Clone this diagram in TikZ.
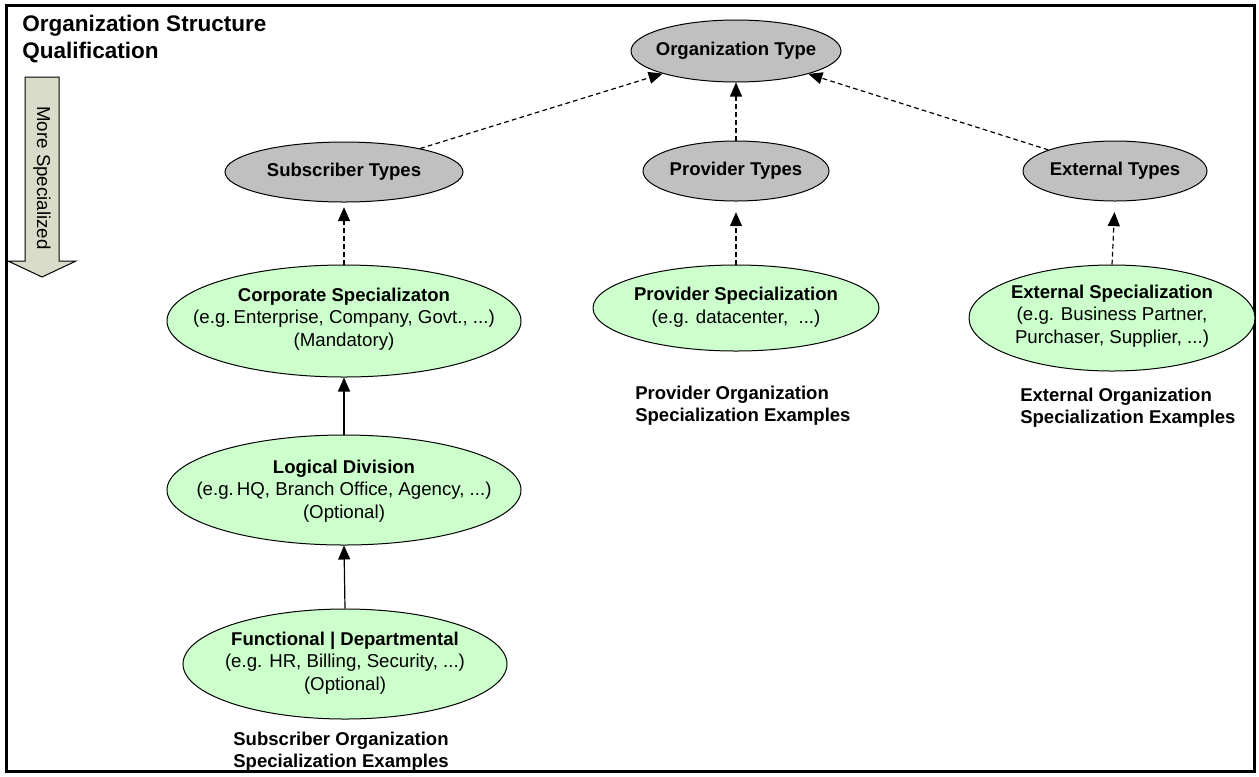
\documentclass[tikz,border=0pt]{standalone}
\usepackage{fontspec}
\setmainfont{Liberation Sans}
\usetikzlibrary{shapes.geometric,arrows.meta}
\definecolor{typegray}{RGB}{192,192,192}
\definecolor{specgreen}{RGB}{204,255,204}
\definecolor{arrowfill}{RGB}{216,220,200}
\newcommand\hdfont{\fontsize{13.9pt}{17pt}\selectfont\bfseries}
\newcommand\bdfont{\fontsize{14pt}{17pt}\selectfont}
\newcommand\capfont{\fontsize{13.9pt}{16.5pt}\selectfont\bfseries}
\newcommand\ttlfont{\fontsize{16.9pt}{20pt}\selectfont\bfseries}
\begin{document}
\begin{tikzpicture}[x=0.75pt,y=-0.75pt,
  ell/.style 2 args={ellipse, draw, line width=0.75pt, minimum width=#1*1.5pt, minimum height=#2*1.5pt, inner sep=0pt},
  typeell/.style 2 args={ell={#1}{#2}, fill=typegray},
  specell/.style 2 args={ell={#1}{#2}, fill=specgreen},
  txt/.style={align=center, inner sep=0pt, font=\bdfont},
  captxt/.style={align=left, inner sep=0pt, anchor=north west, font=\capfont},
  conn/.style={-{Triangle[length=10.5pt,width=9pt]}, line width=0.9pt},
  dashconn/.style={conn, dash pattern=on 3.5pt off 2.5pt}]
\useasboundingbox (0,0) rectangle (1259,776);
% frame
\draw[line width=2.25pt] (6.5,5.5) rectangle (1254.5,771);
% title
\node[anchor=base west, inner sep=0pt, font=\ttlfont] (title1) at (22,31) {Organization Structure};
\node[anchor=base west, inner sep=0pt, font=\ttlfont] (title2) at (22,58) {Qualification};
% more specialized arrow
\draw[fill=arrowfill, line width=0.75pt] (25,77) -- (59,77) -- (59,261) -- (76,261) -- (42,277) -- (8,261) -- (25,261) -- cycle;
\node[rotate=-90, inner sep=0pt, font=\bdfont] (more) at (42,178) {More Specialized};
% type ellipses
\node[typeell={105}{31}] (ot) at (736,51) {};
\node[txt, font=\hdfont] at (ot) {Organization Type};
\node[typeell={119}{30}] (st) at (344,172) {};
\node[txt, font=\hdfont] at (st) {Subscriber Types};
\node[typeell={93}{30}] (pt) at (736,171) {};
\node[txt, font=\hdfont] at (pt) {Provider Types};
\node[typeell={92}{30}] (et) at (1115,171) {};
\node[txt, font=\hdfont] at (et) {External Types};
% specialization ellipses
\node[specell={177}{56}] (cs) at (344,321) {};
\node[txt] at (344,319) {{\hdfont Corporate Specializaton}\\ (e.g.\,Enterprise, Company, Govt., ...)\\ (Mandatory)};
\node[specell={143}{43}] (ps) at (736,308) {};
\node[txt] at (736,307) {{\hdfont Provider Specialization}\\ (e.g. datacenter, \ ...)};
\node[specell={143}{53}] (es) at (1112,318) {};
\node[txt] at (1112,316) {{\hdfont External Specialization}\\ (e.g. Business Partner,\\ Purchaser, Supplier, ...)};
\node[specell={177}{55}] (ld) at (344,490) {};
\node[txt] at (344,491) {{\hdfont Logical Division}\\ (e.g.\,HQ, Branch Office, Agency, ...)\\ (Optional)};
\node[specell={162}{55}] (fd) at (345,664) {};
\node[txt] at (345,663) {{\hdfont Functional | Departmental}\\ (e.g. HR, Billing, Security, ...)\\ (Optional)};
% captions
\node[txt, font=\capfont] (subcap) at (341,752) {Subscriber Organization\\ Specialization Examples};
\node[captxt] (provcap) at (635,386) {Provider Organization\\ Specialization Examples};
\node[captxt] (extcap) at (1020,388) {External Organization\\ Specialization Examples};
% connectors
\draw[dashconn] (st) -- (ot);
\draw[dashconn] (et) -- (ot);
\draw[dashconn] (pt.north) -- (ot.south);
\draw[dashconn, shorten >=3.5pt] (cs.north) -- (st.south);
\draw[dashconn, shorten >=8pt] (ps.north) -- (pt.south);
\draw[dashconn, shorten >=8pt] (es.north) -- (et.south);
\draw[conn] (ld.north) -- (cs.south);
\draw[conn] (fd.north) -- (ld.south);
\end{tikzpicture}
\end{document}
